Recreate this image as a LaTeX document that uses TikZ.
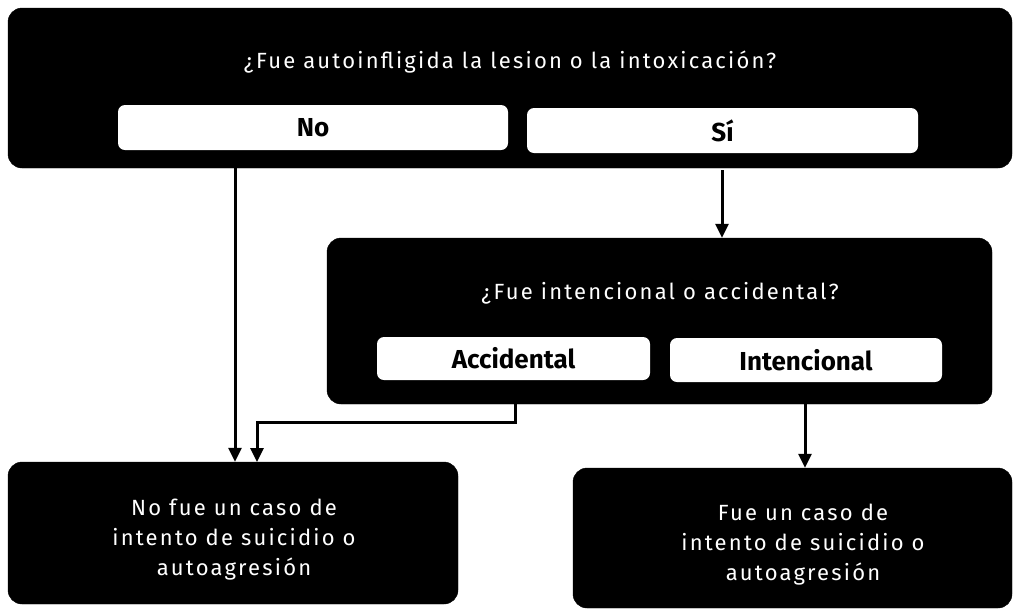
\documentclass[tikz,border=0pt]{standalone}
\usepackage{fontspec}
\setmainfont{Fira Sans}
\newfontfamily\spaced[LetterSpace=10]{Fira Sans}
\usetikzlibrary{arrows.meta,calc}
\begin{document}
\begin{tikzpicture}[x=1pt,y=-1pt,
  blackbox/.style={fill=black,draw=black,rounded corners=14pt,inner sep=0pt},
  whitebox/.style={fill=white,draw=none,rounded corners=7pt,inner sep=0pt,font=\bfseries\fontsize{26}{28}\selectfont},
  title/.style={text=white,font=\spaced\fontsize{22}{26}\selectfont,inner sep=0pt},
  btext/.style={text=white,font=\spaced\fontsize{22}{30}\selectfont,align=center,inner sep=0pt},
  arr/.style={line width=3pt,-{Triangle[width=13pt,length=14pt]}},
  conn/.style={line width=3pt}]
\useasboundingbox (0,0) rectangle (1016,611);
\fill[white] (0,0) rectangle (1016,611);
% top box
\node[blackbox,minimum width=1004pt,minimum height=160pt] (top) at (510,88) {};
\node[title] (q1) at (510,62) {¿Fue autoinfligida la lesion o la intoxicación?};
\node[whitebox,minimum width=390pt,minimum height=45pt] (no) at (313,127.5) {No};
\node[whitebox,minimum width=391pt,minimum height=45pt] (si) at (722.5,130.5) {Sí};
% middle box
\node[blackbox,minimum width=665pt,minimum height=166pt] (mid) at (659.5,321) {};
\node[title] (q2) at (660,293) {¿Fue intencional o accidental?};
\node[whitebox,minimum width=273pt,minimum height=43pt] (acc) at (513.5,358.5) {Accidental};
\node[whitebox,minimum width=272pt,minimum height=44pt] (int) at (806,360) {Intencional};
% bottom boxes
\node[blackbox,minimum width=450pt,minimum height=142pt] (bl) at (233,533) {};
\node[btext] (blt) at (234,540) {No fue un caso de\\intento de suicidio o\\autoagresión};
\node[blackbox,minimum width=439pt,minimum height=140pt] (br) at (792.5,538) {};
\node[btext] (brt) at (803,545) {Fue un caso de\\intento de suicidio o\\autoagresión};
% connectors
\coordinate (c1) at (235,168);
\coordinate (c2) at (722,170);
\coordinate (c3) at (515,404);
\coordinate (c4) at (805,404);
\draw[arr] (c1) -- (c1 |- bl.north);
\draw[arr] (c2) -- (c2 |- mid.north);
\draw[arr] (c3) -- (515,422) -- (257,422) -- (257,462);
\draw[arr] (c4) -- (c4 |- br.north);
\end{tikzpicture}
\end{document}
